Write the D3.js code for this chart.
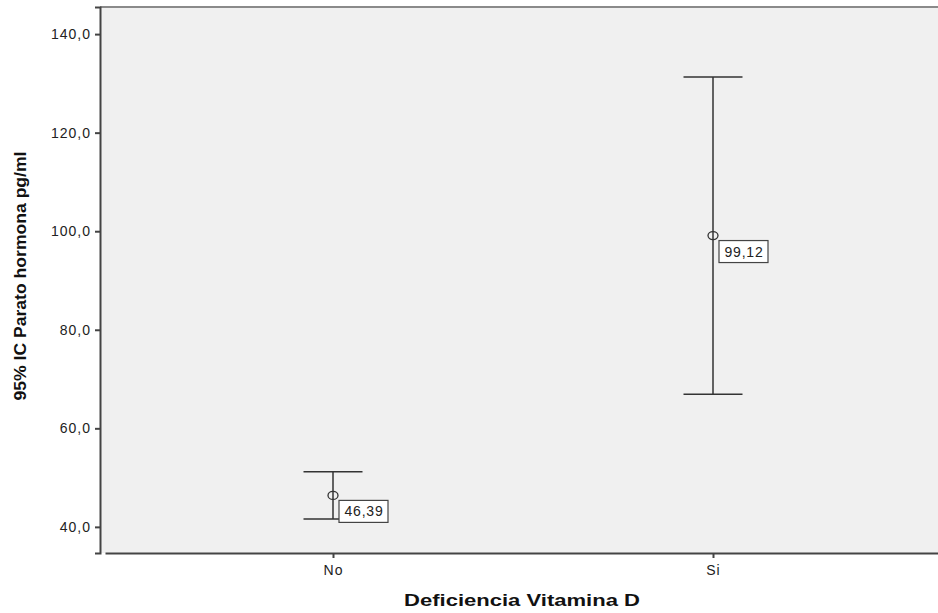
<!DOCTYPE html>
<html>
<head>
<meta charset="utf-8">
<script src="https://cdn.jsdelivr.net/npm/d3@7"></script>
<style>
body { margin: 0; background: #fff; }
text { font-family: "Liberation Sans", Arial, sans-serif; }
</style>
</head>
<body>
<svg id="chart" width="938" height="613"></svg>
<script>
// data
var categories = ["No", "Si"];
var means = [46.39, 99.12];
var lower = [41.6, 66.9];
var upper = [51.2, 131.3];
var yTicks = [40, 60, 80, 100, 120, 140];

var W = 938, H = 613;
var m = { top: 7, right: -2, bottom: 60, left: 100 };
var pw = W - m.left - m.right, ph = H - m.top - m.bottom;

var svg = d3.select("#chart");
var g = svg.append("g").attr("transform", "translate(" + m.left + "," + m.top + ")");

var x = d3.scalePoint().domain(categories).range([5, 841]).padding(0.6);
var y = d3.scaleLinear().domain([34.7, 145.5]).range([ph, 0]);

var comma = function (f) { return function (d) { return d3.format(f)(d).replace(".", ","); }; };

// plot background
g.append("rect").attr("width", pw).attr("height", ph).attr("fill", "#f0f0f0");
g.append("line").attr("x1", 0).attr("x2", pw).attr("y1", 0).attr("y2", 0)
  .attr("stroke", "#8a8a8a").attr("stroke-width", 2);

// axes
var yAxis = g.append("g").call(d3.axisLeft(y).tickValues(yTicks).tickSize(5)
  .tickFormat(comma(".1f")));
var xAxis = g.append("g").attr("transform", "translate(0," + ph + ")")
  .call(d3.axisBottom(x).tickSize(5).tickSizeOuter(0));
[yAxis, xAxis].forEach(function (a) {
  a.select(".domain").attr("stroke", "#444").attr("stroke-width", 2);
  a.selectAll(".tick line").attr("stroke", "#444").attr("stroke-width", 2);
  a.selectAll("text").attr("font-size", 14).attr("fill", "#222")
    .style("letter-spacing", "1px")
    .style("font-family", "Liberation Sans, Arial, sans-serif");
});
yAxis.selectAll("text").attr("x", -9);
xAxis.selectAll("text").attr("y", 12);

// error bars
var bars = g.selectAll(".bar").data(categories).enter().append("g")
  .attr("class", "bar");
var capW = 29.5;
bars.append("line")
  .attr("x1", function (d) { return x(d); }).attr("x2", function (d) { return x(d); })
  .attr("y1", function (d, i) { return y(upper[i]); })
  .attr("y2", function (d, i) { return y(lower[i]); })
  .attr("stroke", "#333").attr("stroke-width", 1.5);
bars.append("line")
  .attr("x1", function (d) { return x(d) - capW; }).attr("x2", function (d) { return x(d) + capW; })
  .attr("y1", function (d, i) { return y(upper[i]); })
  .attr("y2", function (d, i) { return y(upper[i]); })
  .attr("stroke", "#333").attr("stroke-width", 1.5);
bars.append("line")
  .attr("x1", function (d) { return x(d) - capW; }).attr("x2", function (d) { return x(d) + capW; })
  .attr("y1", function (d, i) { return y(lower[i]); })
  .attr("y2", function (d, i) { return y(lower[i]); })
  .attr("stroke", "#333").attr("stroke-width", 1.5);
bars.append("ellipse")
  .attr("cx", function (d) { return x(d); })
  .attr("cy", function (d, i) { return y(means[i]); })
  .attr("rx", 5).attr("ry", 4)
  .attr("fill", "none").attr("stroke", "#333").attr("stroke-width", 1.3);

// value labels
bars.append("rect")
  .attr("x", function (d) { return x(d) + 6; })
  .attr("y", function (d, i) { return y(means[i]) + 5; })
  .attr("width", 49).attr("height", 22)
  .attr("fill", "#fff").attr("stroke", "#444").attr("stroke-width", 1.2);
bars.append("text")
  .attr("x", function (d) { return x(d) + 31; })
  .attr("y", function (d, i) { return y(means[i]) + 21; })
  .attr("text-anchor", "middle").attr("font-size", 14).attr("fill", "#222")
  .style("letter-spacing", "0.8px")
  .text(function (d, i) { return comma(".2f")(means[i]); });

// titles
svg.append("text")
  .attr("transform", "translate(26,276) rotate(-90)")
  .attr("text-anchor", "middle").attr("font-size", 16).attr("font-weight", "bold")
  .attr("textLength", 249).attr("lengthAdjust", "spacingAndGlyphs")
  .attr("fill", "#111").text("95% IC Parato hormona pg/ml");
svg.append("text")
  .attr("x", 522).attr("y", 606)
  .attr("text-anchor", "middle").attr("font-size", 17).attr("font-weight", "bold")
  .attr("textLength", 236).attr("lengthAdjust", "spacingAndGlyphs")
  .attr("fill", "#111").text("Deficiencia Vitamina D");
</script>
</body>
</html>
